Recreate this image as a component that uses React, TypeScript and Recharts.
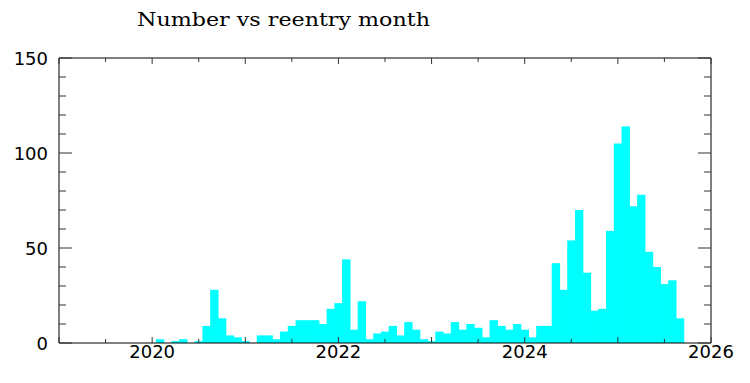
import React from 'react';
import { BarChart, Bar, XAxis, YAxis, ReferenceLine } from 'recharts';

// monthly counts, Jan 2020 .. Aug 2025
const months = [
  '2020-01', '2020-02', '2020-03', '2020-04', '2020-05', '2020-06', '2020-07', '2020-08', '2020-09', '2020-10', '2020-11', '2020-12',
  '2021-01', '2021-02', '2021-03', '2021-04', '2021-05', '2021-06', '2021-07', '2021-08', '2021-09', '2021-10', '2021-11', '2021-12',
  '2022-01', '2022-02', '2022-03', '2022-04', '2022-05', '2022-06', '2022-07', '2022-08', '2022-09', '2022-10', '2022-11', '2022-12',
  '2023-01', '2023-02', '2023-03', '2023-04', '2023-05', '2023-06', '2023-07', '2023-08', '2023-09', '2023-10', '2023-11', '2023-12',
  '2024-01', '2024-02', '2024-03', '2024-04', '2024-05', '2024-06', '2024-07', '2024-08', '2024-09', '2024-10', '2024-11', '2024-12',
  '2025-01', '2025-02', '2025-03', '2025-04', '2025-05', '2025-06', '2025-07', '2025-08',
];

const counts = [
  2, 0, 1, 2, 0, 1, 9, 28, 13, 4, 3, 1,
  0, 4, 4, 2, 6, 9, 12, 12, 12, 10, 18, 21,
  44, 7, 22, 2, 5, 6, 9, 4, 11, 7, 2, 1,
  6, 5, 11, 7, 10, 8, 3, 12, 9, 7, 10, 7,
  3, 9, 9, 42, 28, 54, 70, 37, 17, 18, 59, 105,
  114, 72, 78, 48, 40, 31, 33, 13,
];

const xTicks = [2019, 2019.5, 2020, 2020.5, 2021, 2021.5, 2022, 2022.5, 2023, 2023.5, 2024, 2024.5, 2025, 2025.5, 2026];
const xLabels = [2020, 2022, 2024, 2026];
const yTicks = [0, 10, 20, 30, 40, 50, 60, 70, 80, 90, 100, 110, 120, 130, 140, 150];
const yLabels = [0, 50, 100, 150];

// the bins sit centred on the end of each month
const data = months.map((m, i) => {
  const [yr, mo] = m.split('-').map(Number);
  return { t: yr + mo / 12, n: counts[i] };
});

const W = 750;
const H = 383;
const PL = 59;
const PR = 711;
const PT = 58;
const PB = 343;
const binPx = (PR - PL) / 7 / 12; // one month in pixels
const tickColor = '#333';
const labelFont = '"DejaVu Sans", sans-serif';

const YTick = (props: any) => {
  const { y, payload } = props;
  const v = payload.value;
  const major = v % 50 === 0;
  const len = major ? 13 : 7;
  return (
    <g>
      <line x1={PL} x2={PL + len} y1={y} y2={y} stroke={tickColor} />
      <line x1={PR - len} x2={PR} y1={y} y2={y} stroke={tickColor} />
      {yLabels.includes(v) && (
        <text x={48} y={y} textAnchor="end" dominantBaseline="central" fontFamily={labelFont} fontSize={18} fill="#000">
          {v}
        </text>
      )}
    </g>
  );
};

const XTick = (props: any) => {
  const { x, payload } = props;
  const v = payload.value;
  const len = Number.isInteger(v) ? 6 : 4;
  return (
    <g>
      <line x1={x} x2={x} y1={PB} y2={PB - len} stroke={tickColor} />
      <line x1={x} x2={x} y1={PT} y2={PT + len} stroke={tickColor} />
      {xLabels.includes(v) && (
        <text x={x} y={358} textAnchor="middle" fontFamily={labelFont} fontSize={18} fill="#000">
          {v}
        </text>
      )}
    </g>
  );
};

// full-width histogram bin around the centre the library gives
const Bin = (props: any) => {
  const { x, y, width, height, fill } = props;
  if (!height) return null;
  const cx = x + width / 2;
  return <rect x={cx - binPx / 2 - 0.3} y={y} width={binPx + 0.6} height={height} fill={fill} />;
};

export default function App() {
  return (
    <div style={{ position: 'absolute', left: 0, top: 0, width: W, height: H, background: '#fff' }}>
      <BarChart
        width={W}
        height={H}
        data={data}
        margin={{ top: PT, right: W - PR, bottom: 10, left: PL - 50 }}
        barCategoryGap={0}
        barGap={0}
      >
        <XAxis
          type="number"
          dataKey="t"
          domain={[2019, 2026]}
          ticks={xTicks}
          interval={0}
          allowDataOverflow
          height={30}
          tickLine={false}
          axisLine={{ stroke: '#000' }}
          tick={<XTick />}
        />
        <YAxis
          type="number"
          domain={[0, 150]}
          ticks={yTicks}
          interval={0}
          width={50}
          tickLine={false}
          axisLine={{ stroke: '#000' }}
          tick={<YTick />}
        />
        <Bar dataKey="n" fill="#00ffff" shape={<Bin />} isAnimationActive={false} />
        <ReferenceLine y={150} stroke="#000" />
        <ReferenceLine x={2026} stroke="#000" />
      </BarChart>
      <svg width={W} height={40} style={{ position: 'absolute', left: 0, top: 0 }}>
        <text
          x={137}
          y={26}
          fontFamily='"DejaVu Serif", serif'
          fontSize={19}
          textLength={293}
          lengthAdjust="spacingAndGlyphs"
          fill="#000"
        >
          Number vs reentry month
        </text>
      </svg>
    </div>
  );
}
